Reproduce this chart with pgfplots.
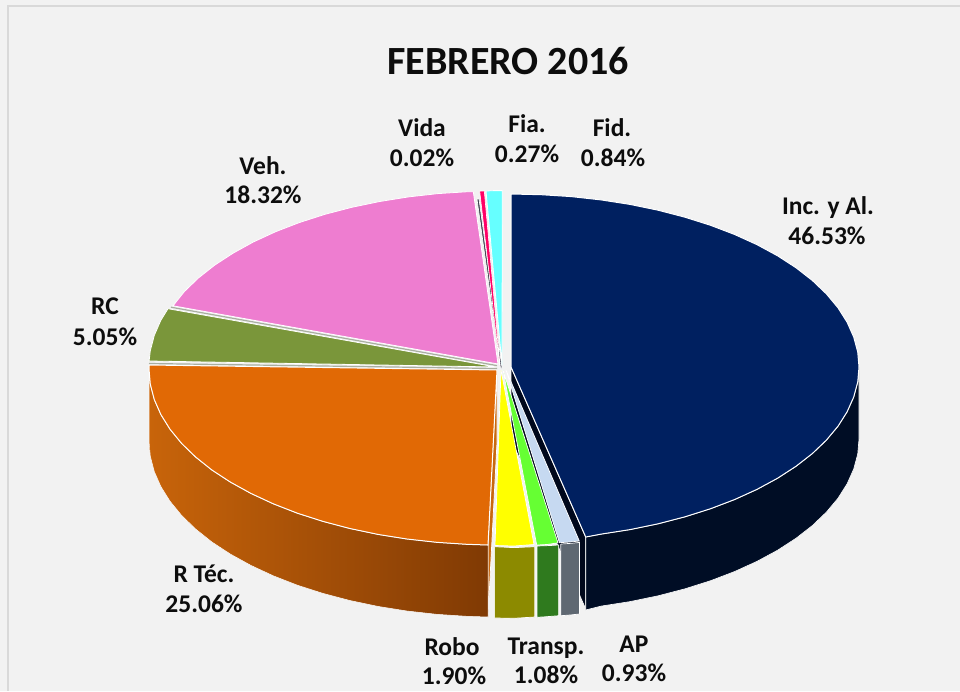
\documentclass[border=0pt]{standalone}
\usepackage{pgfplots}
\pgfplotsset{compat=1.18}
\usepackage{fontspec}
\setmainfont{Carlito}
\definecolor{bgc}{HTML}{F2F2F2}
\definecolor{bordc}{HTML}{D9D9D9}
\definecolor{navy}{HTML}{002060}
\definecolor{navyside}{HTML}{000D25}
\definecolor{navycut}{HTML}{00081C}
\definecolor{orangetop}{HTML}{E16905}
\definecolor{orangeL}{HTML}{C8640A}
\definecolor{orangeR}{HTML}{803A04}
\definecolor{orangecut}{HTML}{C8680F}
\definecolor{olive}{HTML}{7A963A}
\definecolor{pinkc}{HTML}{EE7DD0}
\definecolor{redc}{HTML}{FF0066}
\definecolor{cyanc}{HTML}{66FFFF}
\definecolor{vidac}{HTML}{404050}
\definecolor{yell}{HTML}{FFFF00}
\definecolor{yellside}{HTML}{8C8A00}
\definecolor{gre}{HTML}{66FF33}
\definecolor{greside}{HTML}{2F7A1E}
\definecolor{blu}{HTML}{C6D9F1}
\definecolor{bluside}{HTML}{5F6872}
\definecolor{txt}{HTML}{0D0D0D}
\definecolor{cutgray}{HTML}{A9AFA0}
\newcommand{\lab}[3]{\node[anchor=base,align=center,text=txt,inner sep=0pt] at (axis cs:#1,#2) {\fontsize{25.5}{30}\selectfont\bfseries #3};}
\begin{document}
\begin{tikzpicture}
\begin{axis}[
  scale only axis, width=960pt, height=691pt,
  xmin=0, xmax=960, ymin=0, ymax=691, y dir=reverse,
  hide axis, clip=true,
]
% background and frame
\addplot[fill=bgc, draw=none] coordinates {(0,0) (960,0) (960,691) (0,691) (0,0)};
\addplot[draw=bordc, line width=2.2pt] coordinates {(8,691) (8,6) (960,6)};

% navy cut face
\addplot[fill=navycut, draw=white, line width=0.7pt] coordinates {(511,367) (585.7,537) (585.7,609) (511,439) (511,367)};
% navy side
\addplot[fill=navyside, draw=white, line width=0.6pt] coordinates {
 (859,367) (857.7,382.1) (853.7,397) (847.1,411.8) (838,426.2) (826.4,440.1) (812.4,453.5) (796.1,466.2) (777.6,478.2) (757.1,489.3) (734.7,499.5) (710.6,508.7) (685,516.8) (658.1,523.8) (630,529.6) (601.1,534.1) (585.7,537)
 (585.7,610) (601.1,606.1) (630,601.6) (658.1,595.8) (685,588.8) (710.6,580.7) (734.7,571.5) (757.1,561.3) (777.6,550.2) (796.1,538.2) (812.4,525.5) (826.4,512.1) (838,498.2) (847.1,483.8) (853.7,469) (857.7,454.1) (859,439) (859,367)};
% navy top (Inc. y Al.)
\addplot[fill=navy, draw=white, line width=1pt] coordinates {
 (511,367) (511,194) (541.3,194.7) (571.4,196.6) (601.1,199.9) (630,204.4) (658.1,210.2) (685,217.2) (710.6,225.3) (734.7,234.5) (757.1,244.7) (777.6,255.8) (796.1,267.8) (812.4,280.5) (826.4,293.9) (838,307.8) (847.1,322.2) (853.7,337) (857.7,351.9) (859,367)
 (857.7,382.1) (853.7,397) (847.1,411.8) (838,426.2) (826.4,440.1) (812.4,453.5) (796.1,466.2) (777.6,478.2) (757.1,489.3) (734.7,499.5) (710.6,508.7) (685,516.8) (658.1,523.8) (630,529.6) (601.1,534.1) (585.7,537) (511,367)};

% orange cut face
\addplot[fill=orangecut, draw=white, line width=0.7pt] coordinates {(497,370) (488,545) (488,617) (497,442) (497,370)};
% orange side
\addplot[left color=orangeL, right color=orangeR, draw=white, line width=0.5pt] coordinates {
 (488,545) (466.7,544.3) (436.6,542.3) (406.9,539) (378,534.4) (349.9,528.5) (323,521.4) (297.4,513.2) (273.3,503.8) (250.9,493.4) (230.4,482.1) (211.9,470) (195.6,457) (181.6,443.4) (170,429.2) (160.9,414.6) (154.3,399.6) (150.3,384.3) (149,369)
 (149,441) (150.3,456.3) (154.3,471.6) (160.9,486.6) (170,501.2) (181.6,515.4) (195.6,529) (211.9,542) (230.4,554.1) (250.9,565.4) (273.3,575.8) (297.4,585.2) (323,593.4) (349.9,600.5) (378,606.4) (406.9,611) (436.6,614.3) (466.7,616.3) (488,617) (488,545)};
% orange top (R Tec.)
\addplot[fill=orangetop, draw=white, line width=1pt] coordinates {
 (497,370) (488,545) (466.7,544.3) (436.6,542.3) (406.9,539) (378,534.4) (349.9,528.5) (323,521.4) (297.4,513.2) (273.3,503.8) (250.9,493.4) (230.4,482.1) (211.9,470) (195.6,457) (181.6,443.4) (170,429.2) (160.9,414.6) (154.3,399.6) (150.3,384.3) (149,369) (149,365) (497,370)};
% gray cut edge above orange
\addplot[draw=cutgray, line width=1.2pt] coordinates {(149,363.5) (497,368.5)};
% olive (RC)
\addplot[fill=olive, draw=white, line width=0.8pt] coordinates {
 (496,367) (149.1,361) (150.3,350.7) (154.3,335.4) (160.8,320.4) (168,308.7) (496,367)};
% gray cut edge above olive
\addplot[draw=cutgray, line width=1.2pt] coordinates {(171,307.2) (497,365.6)};
% pink (Veh.)
\addplot[fill=pinkc, draw=white, line width=0.8pt] coordinates {
 (498,364) (173,305.8) (184.4,291.5) (198.4,278) (214.6,265.2) (233,253.2) (253.3,242) (275.6,231.7) (299.5,222.5) (325,214.3) (351.8,207.3) (379.7,201.5) (408.5,196.9) (437.9,193.6) (467.8,191.7) (473.3,191.7) (498,364)};
% vida
\addplot[fill=vidac, draw=white, line width=0.6pt] coordinates {(477,199) (479,199) (502,368) (500.5,368) (477,199)};
% red (Fia.)
\addplot[fill=redc, draw=white, line width=0.6pt] coordinates {(479.7,191) (484.3,191) (500,365) (499.5,365) (479.7,191)};
% cyan (Fid.)
\addplot[fill=cyanc, draw=white, line width=0.8pt] coordinates {(486,191) (494,190.6) (502.3,190.6) (502,365) (486,191)};

% side faces of small slices
\addplot[fill=yellside, draw=white, line width=0.7pt] coordinates {(494.6,546.7) (514,547.6) (534.8,546.7) (534.8,617) (514,618.3) (494.6,618) (494.6,546.7)};
\addplot[fill=greside, draw=white, line width=0.7pt] coordinates {(537,546) (548,545.6) (558.7,545) (558.7,615.7) (548,616.6) (537,617.3) (537,546)};
\addplot[fill=bluside, draw=white, line width=0.7pt] coordinates {(560.8,544) (570,543.4) (579.5,542.4) (579.5,614) (570,615) (560.8,615.7) (560.8,544)};
% top faces of small slices
\addplot[fill=blu, draw=white, line width=0.7pt] coordinates {(506,370) (559.4,542.7) (570,542) (579.3,541) (506,370)};
\addplot[fill=gre, draw=white, line width=0.7pt] coordinates {(503,370) (536.7,545) (547,544.5) (558,542.8) (503,370)};
\addplot[fill=yell, draw=white, line width=0.7pt] coordinates {(501,370) (495,545.5) (514,546) (534,544.5) (501,370)};

\node[anchor=base,text=txt,inner sep=0pt] at (axis cs:508,74.5) {\fontsize{40}{44}\selectfont\bfseries FEBRERO 2016};
\lab{828}{214}{Inc. y Al.}
\lab{827}{244}{46.53\%}
\lab{612}{136}{Fid.}
\lab{613}{166}{0.84\%}
\lab{527}{132}{Fia.}
\lab{527}{162}{0.27\%}
\lab{422}{136}{Vida}
\lab{422}{166}{0.02\%}
\lab{263}{174}{Veh.}
\lab{263}{203}{18.32\%}
\lab{105}{314}{RC}
\lab{105}{345}{5.05\%}
\lab{204}{582}{R Téc.}
\lab{204}{612}{25.06\%}
\lab{452}{655}{Robo}
\lab{454}{684}{1.90\%}
\lab{546}{654}{Transp.}
\lab{546}{683}{1.08\%}
\lab{634}{652}{AP}
\lab{634}{681}{0.93\%}
\end{axis}
\end{tikzpicture}
\end{document}
